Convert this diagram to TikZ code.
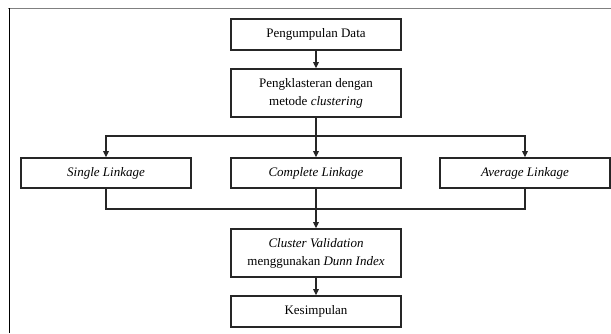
\documentclass[tikz,border=0pt]{standalone}
\usepackage{fontspec}
\setmainfont{Liberation Serif}
\usetikzlibrary{arrows.meta}
\begin{document}
\begin{tikzpicture}[x=1pt,y=-1pt,
  box/.style={draw=black!85, line width=1.6pt, minimum width=170pt, align=center,
    font=\fontsize{13}{18}\selectfont, inner sep=0pt, fill=white},
  conn/.style={line width=1.1pt, draw=black!85},
  arr/.style={conn, -{Triangle[length=6pt,width=5.5pt]}}]
\useasboundingbox (0,0) rectangle (611,333);
\draw[gray, line width=1.5pt] (8,8.5) -- (611,8.5);
\draw[black, line width=1.2pt] (9.3,8) -- (9.3,333);

\node[box, minimum height=31pt] (a) at (316,34.5) {Pengumpulan Data};
\node[box, minimum height=48pt] (b) at (316,93) {Pengklasteran dengan\\metode \textit{clustering}};
\node[box, minimum height=30pt] (s) at (106,173) {\textit{Single Linkage}};
\node[box, minimum height=30pt] (c) at (316,173) {\textit{Complete Linkage}};
\node[box, minimum height=30pt] (v) at (525,173) {\textit{Average Linkage}};
\node[box, minimum height=48pt] (cv) at (316,253) {\textit{Cluster Validation}\\menggunakan \textit{Dunn Index}};
\node[box, minimum height=31pt] (k) at (316,311.5) {Kesimpulan};

\coordinate (j1) at (316,136);
\coordinate (j2) at (316,209);

\draw[arr] (a) -- (b);
\draw[arr] (b) -- (c);
\draw[arr] (j1) -| (s);
\draw[arr] (j1) -| (v);
\draw[conn] (s) |- (j2);
\draw[conn] (v) |- (j2);
\draw[arr] (c) -- (cv);
\draw[arr] (cv) -- (k);
\end{tikzpicture}
\end{document}
